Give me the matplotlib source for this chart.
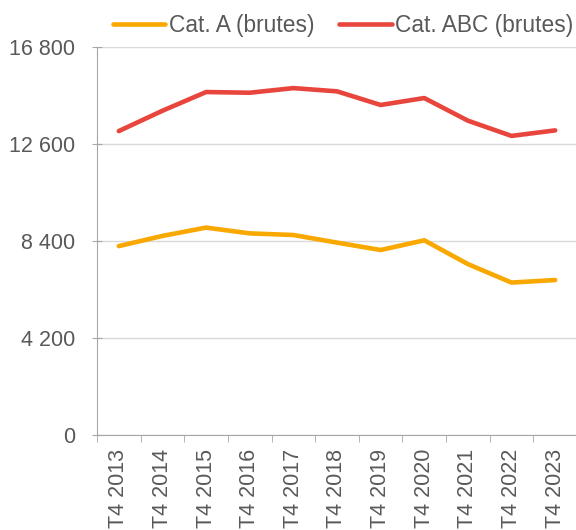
import matplotlib
matplotlib.use("Agg")
import matplotlib.pyplot as plt
from matplotlib.ticker import FuncFormatter

# T4 quarter of each year
years = ["T4 2013", "T4 2014", "T4 2015", "T4 2016", "T4 2017", "T4 2018",
         "T4 2019", "T4 2020", "T4 2021", "T4 2022", "T4 2023"]
cat_a = [8180, 8620, 8980, 8730, 8660, 8330, 8010, 8430, 7400, 6600, 6710]
cat_abc = [13160, 14040, 14850, 14820, 15020, 14880, 14290, 14590, 13610, 12950, 13190]

Y_TICKS = [0, 4200, 8400, 12600, 16800]
TEXT_GREY = "#595959"
AXIS_GREY = "#A6A6A6"
GRID_GREY = "#D9D9D9"

plt.rcParams["font.family"] = ["Liberation Sans", "DejaVu Sans"]

fig = plt.figure(figsize=(5.76, 5.30), dpi=100)
ax = fig.add_axes([97 / 576, 1 - 435 / 530, (577 - 97) / 576, (435 - 47) / 530])

x = list(range(len(years)))
ax.plot(x, cat_a, color="#F9A800", lw=3.3, label="Cat. A (brutes)", solid_capstyle="round")
ax.plot(x, cat_abc, color="#E8453C", lw=3.3, label="Cat. ABC (brutes)", solid_capstyle="round")

ax.set_xlim(-0.5, len(years) - 0.5)
ax.set_ylim(0, 16800)
ax.set_yticks(Y_TICKS)
ax.yaxis.set_major_formatter(FuncFormatter(lambda v, _: f"{int(v):,}".replace(",", " ")))
ax.grid(axis="y", color=GRID_GREY, lw=1)
ax.set_axisbelow(True)

ax.set_xticks(x, years, rotation=90)
ax.set_xticks([i - 0.5 for i in range(len(years) + 1)], minor=True)
ax.tick_params(axis="x", which="major", length=0, pad=10, labelsize=15.5, labelcolor=TEXT_GREY)
ax.tick_params(axis="x", which="minor", length=5, color=AXIS_GREY, direction="out")
ax.tick_params(axis="y", length=7, direction="inout", color=AXIS_GREY,
               labelsize=15.5, labelcolor=TEXT_GREY, pad=12)

for side in ("top", "right"):
    ax.spines[side].set_visible(False)
for side in ("left", "bottom"):
    ax.spines[side].set_color(AXIS_GREY)

ax.legend(loc="center", bbox_to_anchor=(0.5 + 6 / 480, 1 + 22 / 388), ncol=2, frameon=False,
          fontsize=16.4, labelcolor=TEXT_GREY, handlelength=2.3, handletextpad=0.15,
          columnspacing=1.1, borderaxespad=0)

fig.savefig("out.png", dpi=100)
